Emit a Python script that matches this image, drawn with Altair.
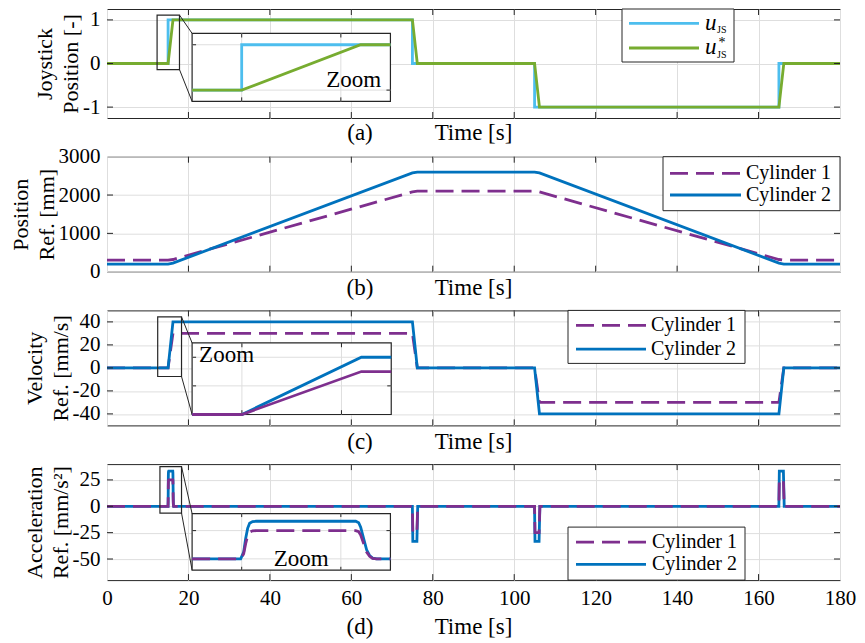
import altair as alt
import numpy as np
import pandas as pd

# ---------------- values ----------------
TIME_TICKS = [0, 20, 40, 60, 80, 100, 120, 140, 160, 180]

# (a) joystick position
T_STEP = [0, 15, 15, 75, 75, 105, 105, 165, 165, 180]
U_JS = [0, 0, 1, 1, 0, 0, -1, -1, 0, 0]
T_RAMP = [0, 15, 16.2, 75, 76.2, 105, 106.2, 165, 166.2, 180]
U_JS_STAR = [0, 0, 1, 1, 0, 0, -1, -1, 0, 0]

# (b) position reference [mm]
POS_CYL1 = [300, 300, 318, 2082, 2100, 2100, 2082, 318, 300, 300]
POS_CYL2 = [200, 200, 224, 2576, 2600, 2600, 2576, 224, 200, 200]

# (c) velocity reference [mm/s]
VEL_CYL1 = [0, 0, 30, 30, 0, 0, -30, -30, 0, 0]
VEL_CYL2 = [0, 0, 40, 40, 0, 0, -40, -40, 0, 0]

# (d) acceleration reference [mm/s^2]
T_ACC = [0, 14.99, 15.02, 15.04, 15.06, 15.08, 15.11, 15.15,
         16.15, 16.18, 16.2, 16.23, 16.26, 16.29, 16.32, 16.36,
         74.99, 75.1, 76.1, 76.3, 104.99, 105.1, 106.1, 106.3,
         164.99, 165.1, 166.1, 166.3, 180]
ACC_CYL2 = [0, 0, 6, 18, 27, 31.5, 33, 33.3,
            33.3, 32, 28, 18, 8, 3, 0.7, 0,
            0, -33.3, -33.3, 0, 0, -33.3, -33.3, 0,
            0, 33.3, 33.3, 0, 0]
ACC_CYL1 = [0, 0, 4.5, 13.5, 20.3, 23.6, 24.8, 25,
            25, 24, 21, 13.5, 6, 2.3, 0.5, 0,
            0, -25, -25, 0, 0, -25, -25, 0,
            0, 25, 25, 0, 0]

LEGEND_CYL = ["Cylinder 1", "Cylinder 2"]
Y_TICKS_A = [-1, 0, 1]
Y_TICKS_B = [0, 1000, 2000, 3000]
Y_TICKS_C = [-40, -20, 0, 20, 40]
Y_TICKS_D = [-50, -25, 0, 25]

# ---------------- styling ----------------
FONT = "Liberation Serif"
INK = "#262626"
GRID = "#dedede"
C_UJS = "#4DBEEE"
C_USTAR = "#77AC30"
C_CYL1 = "#7E2F8E"
C_CYL2 = "#0072BD"
DASH = [18, 8]
LW = 2.8
W = 733
ONE = pd.DataFrame({"k": [0]})


def x_enc(show):
    axis = alt.Axis(values=TIME_TICKS, grid=True, gridColor=GRID, gridWidth=1,
                    ticks=False, tickSize=0, domain=False, labels=show, title=None,
                    labelExpr="datum.value", labelFont=FONT, labelFontSize=21,
                    labelColor="black", labelPadding=7, labelFlush=False,
                    labelOverlap=False)
    return alt.X("t:Q", scale=alt.Scale(domain=[0, 180], nice=False, zero=False), axis=axis)


def y_enc(dom, ticks, title):
    axis = alt.Axis(values=ticks, grid=True, gridColor=GRID, gridWidth=1,
                    ticks=False, tickSize=0, domain=False, labelExpr="datum.value",
                    labelFont=FONT, labelFontSize=21, labelColor="black",
                    labelPadding=7, labelFlush=False, labelOverlap=False,
                    title=title, titleFont=FONT, titleFontSize=22,
                    titleFontWeight="normal", titleColor="black",
                    titlePadding=0, titleLineHeight=26)
    return alt.Y("v:Q", scale=alt.Scale(domain=dom, nice=False, zero=False), axis=axis)


def line_layer(t, v, color, dash, X, Y):
    df = pd.DataFrame({"t": list(t), "v": list(v), "i": range(len(t))})
    kw = dict(color=color, strokeWidth=LW)
    if dash:
        kw["strokeDash"] = dash
    return alt.Chart(df).mark_line(**kw).encode(x=X, y=Y, order="i:Q")


def window(t, v, lo, hi):
    t = np.asarray(t, float)
    v = np.asarray(v, float)
    inside = (t > lo) & (t < hi)
    tt = np.concatenate([[lo], t[inside], [hi]])
    vv = np.concatenate([[np.interp(lo, t, v)], v[inside], [np.interp(hi, t, v)]])
    return tt, vv


def inset_layers(ins, X, Y):
    (t0, t1), (v0, v1) = ins["win_t"], ins["win_v"]
    (fx0, fx1), (fy0, fy1) = ins["frame_t"], ins["frame_v"]

    def mt(t):
        return fx0 + (np.asarray(t, float) - t0) / (t1 - t0) * (fx1 - fx0)

    def mv(v):
        return fy0 + (np.asarray(v, float) - v0) / (v1 - v0) * (fy1 - fy0)

    out = []
    (rx0, rx1), (ry0, ry1) = ins["rect_t"], ins["rect_v"]
    rect = pd.DataFrame({"t": [rx0], "t2": [rx1], "v": [ry0], "v2": [ry1]})
    out.append(alt.Chart(rect).mark_rect(fillOpacity=0, stroke=INK, strokeWidth=1.2)
               .encode(x=X, x2="t2:Q", y=Y, y2="v2:Q"))
    con = pd.DataFrame({"t": [rx1, rx1], "v": [ry1, ry0], "t2": [fx0, fx0], "v2": [fy1, fy0]})
    out.append(alt.Chart(con).mark_rule(color=INK, strokeWidth=1)
               .encode(x=X, y=Y, x2="t2:Q", y2="v2:Q"))
    frame = pd.DataFrame({"t": [fx0], "t2": [fx1], "v": [fy0], "v2": [fy1]})
    out.append(alt.Chart(frame).mark_rect(fill="white", stroke=INK, strokeWidth=1.2)
               .encode(x=X, x2="t2:Q", y=Y, y2="v2:Q"))
    # inset grid
    gx = mt(ins["grid_t"])
    gy = mv(ins["grid_v"])
    gxd = pd.DataFrame({"t": gx, "v": fy0, "v2": fy1})
    gyd = pd.DataFrame({"v": gy, "t": fx0, "t2": fx1})
    out.append(alt.Chart(gxd).mark_rule(color=GRID, strokeWidth=1).encode(x=X, y=Y, y2="v2:Q"))
    out.append(alt.Chart(gyd).mark_rule(color=GRID, strokeWidth=1).encode(y=Y, x=X, x2="t2:Q"))
    # inset ticks (inward)
    lv = 0.06 * (fy1 - fy0)
    lt = 0.02 * (fx1 - fx0)
    tk = pd.concat([
        pd.DataFrame({"t": gx, "t2": gx, "v": fy0, "v2": fy0 + lv}),
        pd.DataFrame({"t": gx, "t2": gx, "v": fy1, "v2": fy1 - lv}),
        pd.DataFrame({"t": fx0, "t2": fx0 + lt, "v": gy, "v2": gy}),
        pd.DataFrame({"t": fx1, "t2": fx1 - lt, "v": gy, "v2": gy}),
    ])
    out.append(alt.Chart(tk).mark_rule(color=INK, strokeWidth=1)
               .encode(x=X, x2="t2:Q", y=Y, y2="v2:Q"))
    for (t, v, color, dash) in ins["series"]:
        tt, vv = window(t, v, t0, t1)
        out.append(line_layer(mt(tt), mv(vv), color, dash, X, Y))
    zt, zv, za = ins["zoom"]
    zd = pd.DataFrame({"t": [float(mt(zt))], "v": [float(mv(zv))], "s": ["Zoom"]})
    out.append(alt.Chart(zd).mark_text(font=FONT, fontSize=23, align=za, baseline="middle",
                                       color="black").encode(x=X, y=Y, text="s:N"))
    return out


def tick_layers(yticks, ydom, h, X, Y):
    xt = pd.DataFrame({"t": TIME_TICKS[1:-1]})
    yt = pd.DataFrame({"v": [y for y in yticks if ydom[0] < y < ydom[1]]})
    r = dict(color=INK, strokeWidth=1)
    return [
        alt.Chart(xt).mark_rule(**r).encode(x=X, y=alt.value(h), y2=alt.value(h - 6)),
        alt.Chart(xt).mark_rule(**r).encode(x=X, y=alt.value(0), y2=alt.value(6)),
        alt.Chart(yt).mark_rule(**r).encode(y=Y, x=alt.value(0), x2=alt.value(6)),
        alt.Chart(yt).mark_rule(**r).encode(y=Y, x=alt.value(W), x2=alt.value(W - 6)),
    ]


def legend_box(box):
    return alt.Chart(ONE).mark_rect(fill="white", stroke=INK, strokeWidth=1).encode(
        x=alt.value(box[0]), x2=alt.value(box[2]), y=alt.value(box[1]), y2=alt.value(box[3]))


def legend_rule(xs, y, color, dash):
    kw = dict(color=color, strokeWidth=LW)
    if dash:
        kw["strokeDash"] = dash
    return alt.Chart(ONE).mark_rule(**kw).encode(x=alt.value(xs[0]), x2=alt.value(xs[1]), y=alt.value(y))


def text_at(x, y, s, size=20, align="left", italic=False):
    kw = dict(font=FONT, fontSize=size, align=align, baseline="middle", color="black")
    if italic:
        kw["fontStyle"] = "italic"
    return alt.Chart(ONE).mark_text(**kw).encode(x=alt.value(x), y=alt.value(y), text=alt.value(s))


def cyl_legend(box, xs, rows, xl, order):
    out = [legend_box(box)]
    styles = {LEGEND_CYL[0]: (C_CYL1, DASH), LEGEND_CYL[1]: (C_CYL2, None)}
    for name, y in zip(order, rows):
        c, d = styles[name]
        out.append(legend_rule(xs, y, c, d))
        out.append(text_at(xl, y, name))
    return out


def captions(letter, h, off):
    return [text_at(253, h + off, letter, size=23, align="center"),
            text_at(W / 2, h + off, "Time [s]", size=23, align="center")]


def panel(h, ydom, yticks, ytitle, series, inset, legend, letter, off, show_x):
    X = x_enc(show_x)
    Y = y_enc(ydom, yticks, ytitle)
    layers = [line_layer(t, v, c, d, X, Y) for (t, v, c, d) in series]
    if inset:
        layers += inset_layers(inset, X, Y)
    layers += tick_layers(yticks, ydom, h, X, Y)
    layers += legend
    layers += captions(letter, h, off)
    return alt.layer(*layers).properties(width=W, height=h)


# ---------------- panel (a) ----------------
H_A, H_B, H_C, H_D = 109, 115, 115, 116
inset_a = dict(win_t=[14.5, 16.5], win_v=[-0.25, 1.25], frame_t=[20.9, 69.6],
               frame_v=[-0.87, 0.69], rect_t=[12.3, 17.8], rect_v=[-0.14, 1.11],
               grid_t=[15, 16], grid_v=[0, 1],
               series=[(T_STEP, U_JS, C_UJS, None), (T_RAMP, U_JS_STAR, C_USTAR, None)],
               zoom=(16.13, 0.22, "center"))
leg_a = [legend_box((515, 0, 627, 53)),
         legend_rule((522, 592), 14.3, C_UJS, None),
         legend_rule((522, 592), 39, C_USTAR, None),
         text_at(598, 13.5, "u", size=23, italic=True),
         text_at(610, 20.5, "JS", size=10),
         text_at(598, 38, "u", size=23, italic=True),
         text_at(611.5, 33.5, "*", size=14),
         text_at(610, 46, "JS", size=10)]
pa = panel(H_A, [-1.25, 1.25], Y_TICKS_A, ["Joystick", "Position [-]"],
           [(T_STEP, U_JS, C_UJS, None), (T_RAMP, U_JS_STAR, C_USTAR, None)],
           inset_a, leg_a, "(a)", 15, False)

# ---------------- panel (b) ----------------
leg_b = cyl_legend((556, 0, 733, 54), (563, 634), [16.7, 38.3], 639, LEGEND_CYL)
pb = panel(H_B, [0, 3000], Y_TICKS_B, ["Position", "Ref. [mm]"],
           [(T_RAMP, POS_CYL1, C_CYL1, DASH), (T_RAMP, POS_CYL2, C_CYL2, None)],
           None, leg_b, "(b)", 16, False)

# ---------------- panel (c) ----------------
inset_c = dict(win_t=[14.5, 16.5], win_v=[0, 50], frame_t=[20.9, 69.8],
               frame_v=[-40.5, 21.7], rect_t=[12.45, 18.3], rect_v=[-7.5, 44.3],
               grid_t=[15, 16], grid_v=[20, 40],
               series=[(T_RAMP, VEL_CYL2, C_CYL2, None), (T_RAMP, VEL_CYL1, C_CYL1, None)],
               zoom=(14.57, 41.5, "left"))
leg_c = cyl_legend((461, 0, 638, 53), (469, 539), [15, 38.7], 544, LEGEND_CYL)
pc = panel(H_C, [-50, 50], Y_TICKS_C, ["Velocity", "Ref. [mm/s]"],
           [(T_RAMP, VEL_CYL1, C_CYL1, DASH), (T_RAMP, VEL_CYL2, C_CYL2, None)],
           inset_c, leg_c, "(c)", 17, False)

# ---------------- panel (d) ----------------
inset_d = dict(win_t=[14.5, 16.5], win_v=[-10, 40], frame_t=[20.9, 69.6],
               frame_v=[-60.6, -7.0], rect_t=[13.0, 18.3], rect_v=[-6.4, 37.6],
               grid_t=[15, 16], grid_v=[0, 25],
               series=[(T_ACC, ACC_CYL2, C_CYL2, None), (T_ACC, ACC_CYL1, C_CYL1, DASH)],
               zoom=(15.6, -0.5, "center"))
leg_d = cyl_legend((461, 63, 638, 116), (469, 539), [78, 100.3], 545, LEGEND_CYL)
pd_ = panel(H_D, [-70, 40], Y_TICKS_D, ["Acceleration", "Ref. [mm/s²]"],
            [(T_ACC, ACC_CYL2, C_CYL2, None), (T_ACC, ACC_CYL1, C_CYL1, DASH)],
            inset_d, leg_d, "(d)", 47, True)

chart = (alt.vconcat(pa, pb, pc, pd_, spacing=38.7, bounds="flush")
         .resolve_scale(x="independent", y="independent")
         .properties(padding={"left": 0, "top": 0, "right": 0, "bottom": 0})
         .configure_view(stroke=INK, strokeWidth=1))

chart.save("out.html", embed_options={"renderer": "svg", "actions": False})
